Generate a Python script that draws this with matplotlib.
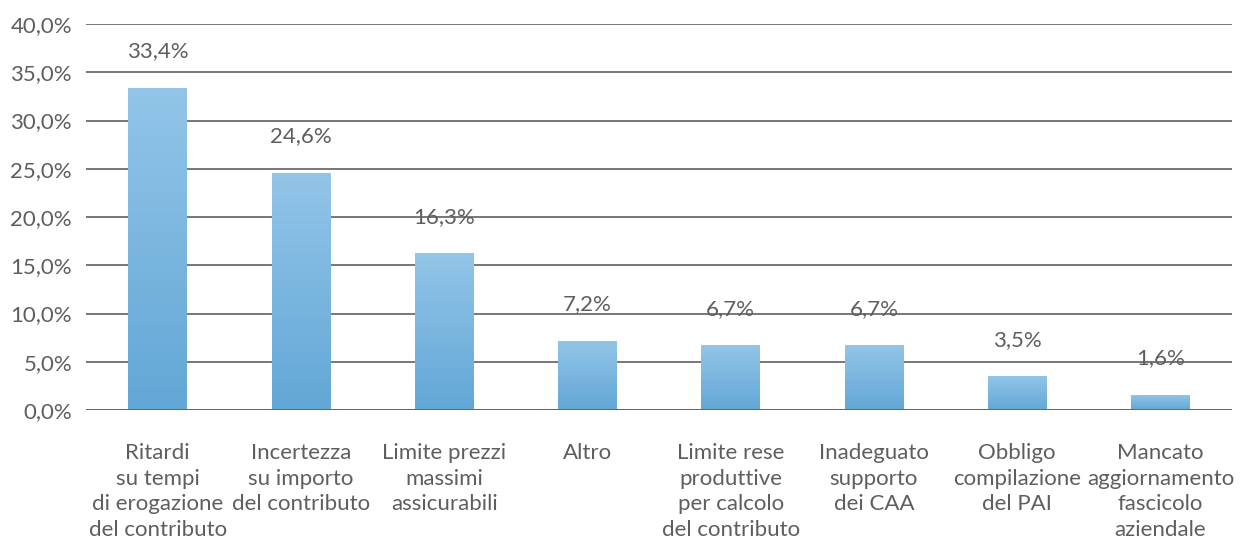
import numpy as np
import matplotlib
matplotlib.use("Agg")
import matplotlib.pyplot as plt
from matplotlib.colors import LinearSegmentedColormap

# data
categories = [
    "Ritardi\nsu tempi\ndi erogazione\ndel contributo",
    "Incertezza\nsu importo\ndel contributo",
    "Limite prezzi\nmassimi\nassicurabili",
    "Altro",
    "Limite rese\nproduttive\nper calcolo\ndel contributo",
    "Inadeguato\nsupporto\ndei CAA",
    "Obbligo\ncompilazione\ndel PAI",
    "Mancato\naggiornamento\nfascicolo\naziendale",
]
values = [33.4, 24.6, 16.3, 7.2, 6.7, 6.7, 3.5, 1.6]
yticks = [0, 5, 10, 15, 20, 25, 30, 35, 40]

text_color = "#5e5e5e"
fsize = 16
plt.rcParams["font.family"] = ["Lato", "DejaVu Sans"]

fig = plt.figure(figsize=(12.45, 5.38), dpi=100)
ax = fig.add_axes([86 / 1245, 1 - 410 / 538, (1232 - 86) / 1245, 386 / 538])

x = np.arange(len(values))
bar_width = 0.41
cmap = LinearSegmentedColormap.from_list("bars", ["#62a7d6", "#93c5e8"])
gradient = np.linspace(0, 1, 256).reshape(-1, 1)

bars = ax.bar(x, values, width=bar_width, color="none", zorder=2)
for bar in bars:
    bx, by = bar.get_x(), bar.get_y()
    w, h = bar.get_width(), bar.get_height()
    im = ax.imshow(gradient, cmap=cmap, origin="lower", aspect="auto",
                   extent=(bx, bx + w, by, by + h), zorder=2)
    im.set_clip_path(bar)

for xi, v in zip(x, values):
    ax.annotate(f"{v:.1f}%".replace(".", ","), (xi, v), xytext=(0, 26),
                textcoords="offset points", ha="center", va="center",
                fontsize=fsize, color=text_color, zorder=4)

ax.set_xlim(-0.5, len(values) - 0.5)
ax.set_ylim(0, 40)
ax.set_yticks(yticks)
ax.set_yticklabels([f"{t:.1f}%".replace(".", ",") for t in yticks],
                   fontsize=fsize, color=text_color)
ax.set_xticks(x)
ax.set_xticklabels(categories, fontsize=fsize, color=text_color,
                   linespacing=1.34, va="top")
ax.tick_params(axis="both", length=0)
ax.tick_params(axis="x", pad=24)
ax.tick_params(axis="y", pad=10)
ax.grid(axis="y", color="#606060", linewidth=1.2, zorder=1)
ax.axhline(0, color="#606060", linewidth=1.2, zorder=3)
ax.set_axisbelow(True)
for s in ax.spines.values():
    s.set_visible(False)

fig.savefig("out.png", dpi=100, facecolor="white")
